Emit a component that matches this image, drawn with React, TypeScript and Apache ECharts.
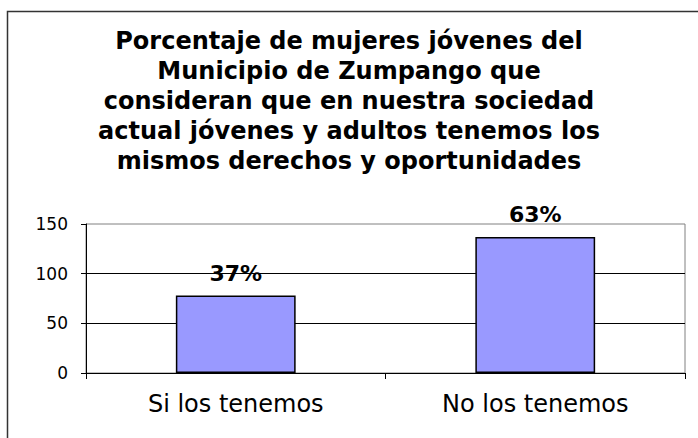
import React, { useEffect, useRef } from "react";
import * as echarts from "echarts";

const titleLines = [
  "Porcentaje de mujeres jóvenes del",
  "Municipio de Zumpango que",
  "consideran que en nuestra sociedad",
  "actual jóvenes y adultos tenemos los",
  "mismos derechos y oportunidades",
];
const categories = ["Si los tenemos", "No los tenemos"];
const values = [78, 137];
const percentLabels = ["37%", "63%"];
const yMin = 0;
const yMax = 150;
const yInterval = 50;

export default function App() {
  const ref = useRef<HTMLDivElement>(null);
  useEffect(() => {
    const chart = echarts.init(ref.current!, null, { renderer: "svg" });
    chart.setOption({
      animation: false,
      backgroundColor: "#ffffff",
      title: {
        text: titleLines.join("\n"),
        left: "center",
        top: 26,
        padding: [0, 0, 0, 14],
        textStyle: {
          fontFamily: "DejaVu Sans",
          fontWeight: "bold",
          fontSize: 24,
          lineHeight: 30,
          color: "#000",
        },
      },
      graphic: [
        {
          type: "rect",
          silent: true,
          shape: { x: 7.5, y: 11.5, width: 720, height: 460 },
          style: { fill: "none", stroke: "#333", lineWidth: 1.5 },
        },
      ],
      grid: {
        left: 86,
        right: 13,
        top: 224,
        bottom: 65,
        show: true,
        borderColor: "#808080",
        borderWidth: 1,
        backgroundColor: "transparent",
      },
      xAxis: {
        type: "category",
        data: categories,
        axisLine: { show: true, lineStyle: { color: "#000", width: 1 } },
        axisTick: { show: true, alignWithLabel: false, length: 6, lineStyle: { color: "#000" } },
        axisLabel: {
          fontFamily: "DejaVu Sans",
          fontSize: 24,
          color: "#000",
          margin: 19,
        },
        splitLine: { show: false },
      },
      yAxis: {
        type: "value",
        min: yMin,
        max: yMax,
        interval: yInterval,
        axisLine: { show: true, lineStyle: { color: "#000", width: 1 } },
        axisTick: { show: true, length: 5, lineStyle: { color: "#000" } },
        axisLabel: {
          fontFamily: "DejaVu Sans",
          fontSize: 17,
          color: "#000",
          margin: 18,
        },
        splitLine: {
          show: true,
          showMaxLine: false,
          lineStyle: { color: "#000", width: 1 },
        },
      },
      series: [
        {
          type: "bar",
          data: values,
          barWidth: "40%",
          itemStyle: { color: "#9999FF", borderColor: "#000", borderWidth: 1.5 },
          label: {
            show: true,
            position: "top",
            distance: 11,
            fontFamily: "DejaVu Sans",
            fontWeight: "bold",
            fontSize: 22,
            color: "#000",
            formatter: (p: any) => percentLabels[p.dataIndex],
          },
        },
      ],
    });
    return () => chart.dispose();
  }, []);
  return (
    <div
      ref={ref}
      style={{ position: "fixed", left: 0, top: 0, width: 698, height: 438, background: "#fff" }}
    />
  );
}
